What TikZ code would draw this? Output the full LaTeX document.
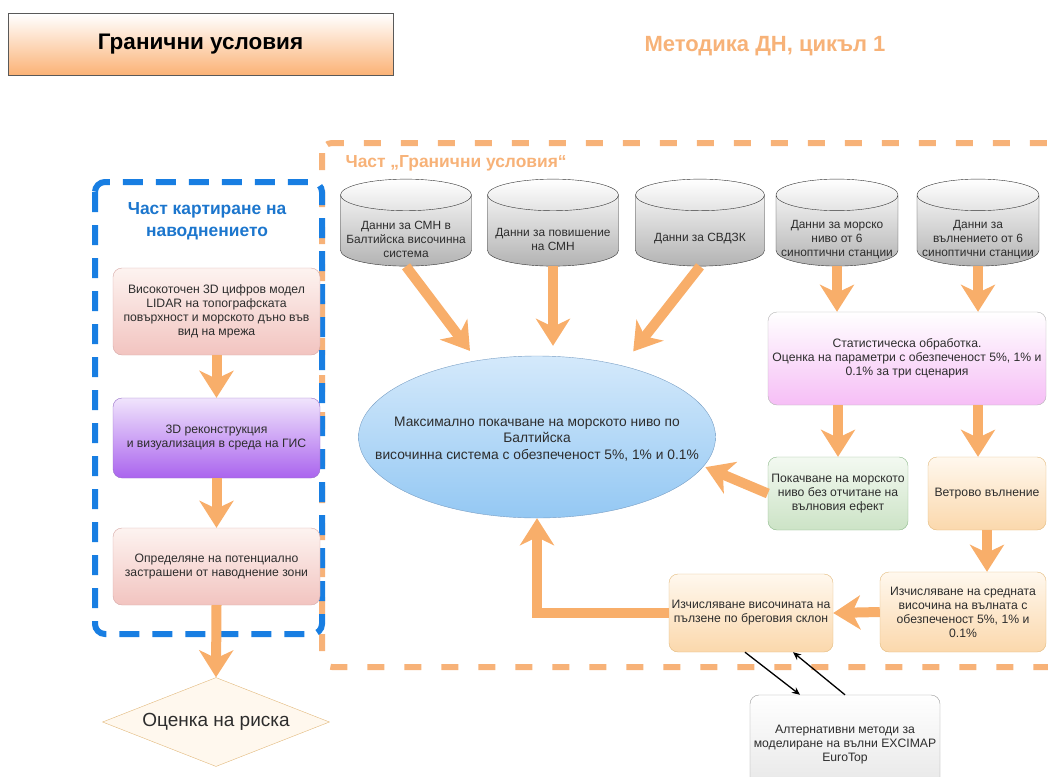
\documentclass[tikz,border=0pt]{standalone}
\usepackage{fontspec}
\setmainfont{Liberation Sans}
\usetikzlibrary{shapes.geometric, arrows.meta, positioning}

\definecolor{arrowor}{RGB}{248,174,106}
\definecolor{frameor}{RGB}{247,178,120}
\definecolor{frameblue}{RGB}{24,126,226}
\definecolor{labelblue}{RGB}{28,118,205}
\definecolor{txt}{RGB}{45,45,45}
\definecolor{pinktop}{RGB}{253,243,240}
\definecolor{pinkbot}{RGB}{242,196,192}
\definecolor{pinkline}{RGB}{214,168,166}
\definecolor{purtop}{RGB}{240,228,252}
\definecolor{purbot}{RGB}{170,100,238}
\definecolor{purline}{RGB}{150,110,200}
\definecolor{magbot}{RGB}{246,190,246}
\definecolor{bluetop}{RGB}{212,233,251}
\definecolor{bluebot}{RGB}{148,200,243}
\definecolor{blueline}{RGB}{120,158,196}
\definecolor{greentop}{RGB}{243,249,241}
\definecolor{greenbot}{RGB}{204,227,198}
\definecolor{greenline}{RGB}{140,184,138}
\definecolor{ortop}{RGB}{255,248,238}
\definecolor{orbot}{RGB}{251,216,172}
\definecolor{orline}{RGB}{226,184,122}
\definecolor{titlebot}{RGB}{251,178,118}

\begin{document}
\begin{tikzpicture}[x=1pt,y=-1pt,
    box/.style={draw, rounded corners=9pt, align=center, text=txt, inner sep=2pt,
        font=\fontsize{12.2}{14}\selectfont},
    pinkbox/.style={box, draw=pinkline, top color=pinktop, bottom color=pinkbot},
    orbox/.style={box, draw=orline, top color=ortop, bottom color=orbot},
    db/.style={cylinder, shape border rotate=90, aspect=0.27, draw=black!80,
        top color=white, bottom color=black!30, text width=115pt, inner sep=1pt,
        minimum height=87pt},
    dbtext/.style={align=center, text=txt, inner sep=0pt,
        font=\fontsize{11.9}{14}\selectfont},
    bigarrow/.style={draw=arrowor, line width=10pt,
        -{Stealth[length=27pt,width=34pt,inset=8pt]}},
    thinarrow/.style={draw=black, line width=1.3pt,
        -{Stealth[length=8pt,width=7pt]}}
]
\useasboundingbox (0,0) rectangle (1048,776);

% header
\node[draw=black!65, line width=1pt, top color=white, bottom color=titlebot,
    minimum width=385pt, minimum height=61pt,
    font=\fontsize{22.5}{26}\selectfont\bfseries] (title) at (200.5,44.5) {Гранични условия};
\node[text=frameor, font=\fontsize{22}{26}\selectfont\bfseries] (method) at (765,46)
    {Методика ДН, цикъл 1};

% the two dashed parts
\draw[frameor, line width=6pt, dash pattern=on 17pt off 20pt, rounded corners=10pt]
    (322,143) rectangle (1060,667);
\draw[frameblue, line width=6pt, dash pattern=on 20pt off 13pt, rounded corners=10pt]
    (95,182) rectangle (322,634);
\node[anchor=west, text=frameor, font=\fontsize{17.4}{20}\selectfont\bfseries]
    (partbc) at (342,163) {Част „Гранични условия“};
\node[align=center, text=labelblue, font=\fontsize{17.4}{22}\selectfont\bfseries]
    (partmap) at (207,221) {Част картиране на\\наводнението};

% flood mapping column
\node[pinkbox, minimum width=207pt, minimum height=87pt] (lidar) at (216.5,311.5)
    {Високоточен 3D цифров модел\\LIDAR на топографската\\повърхност и морското дъно във\\вид на мрежа};
\node[box, draw=purline, top color=purtop, bottom color=purbot,
    minimum width=207pt, minimum height=80pt] (gis) at (216.5,438)
    {3D реконструкция\\и визуализация в среда на ГИС};
\node[pinkbox, minimum width=207pt, minimum height=77pt] (zones) at (216.5,566.5)
    {Определяне на потенциално\\застрашени от наводнение зони};
\node[diamond, aspect=2.55, draw=orline, fill=ortop, minimum width=227pt, minimum height=89pt,
    inner sep=0pt, text=txt, font=\fontsize{19}{22}\selectfont] (risk) at (216,722)
    {Оценка на риска};

% data sources
\node[db, minimum width=131pt] (smn) at (406,232) {};
\node[db, minimum width=131pt] (rise) at (553,232) {};
\node[db, minimum width=129pt] (svdzk) at (700,232) {};
\node[db, minimum width=122pt] (level) at (837,232) {};
\node[db, minimum width=122pt] (waves) at (978,232) {};
\node[dbtext] (smntext) at (406,239) {Данни за СМН в\\Балтийска височинна\\система};
\node[dbtext] (risetext) at (553,239) {Данни за повишение\\на СМН};
\node[dbtext] (svdzktext) at (700,239) {Данни за СВДЗК};
\node[dbtext] (leveltext) at (837,240) {Данни за морско\\ниво от 6\\синоптични станции};
\node[dbtext] (wavestext) at (978,240) {Данни за\\вълнението от 6\\синоптични станции};

% processing
\node[box, draw=black!30, top color=white, bottom color=magbot,
    minimum width=278pt, minimum height=93pt] (stat) at (907,358.5)
    {Статистическа обработка.\\Оценка на параметри с обезпеченост 5\%, 1\% и\\0.1\% за три сценария};
\node[ellipse, draw=blueline, top color=bluetop, bottom color=bluebot,
    minimum width=357pt, minimum height=162pt, inner sep=0pt] (maxlevel) at (537,437) {};
\node[align=center, text=txt, font=\fontsize{13.8}{16.5}\selectfont] (maxleveltext) at (537,439)
    {Максимално покачване на морското ниво по\\Балтийска\\височинна система с обезпеченост 5\%, 1\% и 0.1\%};
\node[box, draw=greenline, top color=greentop, bottom color=greenbot,
    minimum width=140pt, minimum height=73pt] (nowave) at (838,493.5)
    {Покачване на морското\\ниво без отчитане на\\вълновия ефект};
\node[orbox, minimum width=118pt, minimum height=73pt] (wind) at (987,493.5)
    {Ветрово вълнение};
\node[orbox, minimum width=166pt, minimum height=80pt] (height) at (963,612)
    {Изчисляване на средната\\височина на вълната с\\обезпеченост 5\%, 1\% и\\0.1\%};
\node[orbox, minimum width=164pt, minimum height=78pt] (runup) at (751,613)
    {Изчисляване височината на\\пълзене по бреговия склон};
\node[box, draw=black!40, top color=white, bottom color=black!10,
    minimum width=190pt, minimum height=100pt] (alt) at (845,745)
    {Алтернативни методи за\\моделиране на вълни EXCIMAP\\EuroTop};

% orange flow arrows
\draw[bigarrow] (lidar.south) -- (gis.north);
\draw[bigarrow] (gis.south) -- (zones.north);
\draw[bigarrow] (zones.south) -- (risk.north);
\draw[bigarrow, shorten >=12pt] (smn.south) -- (maxlevel.128);
\draw[bigarrow, shorten >=10pt] (rise.south) -- (rise.south |- maxlevel.north);
\draw[bigarrow, shorten >=18pt] (svdzk.south) -- (maxlevel.40);
\draw[bigarrow] (level.south) -- (level.south |- stat.north);
\draw[bigarrow] (waves.south) -- (waves.south |- stat.north);
\draw[bigarrow] (nowave.north |- stat.south) -- (nowave.north);
\draw[bigarrow] (waves.south |- stat.south) -- (waves.south |- wind.north);
\draw[bigarrow, shorten >=2pt] (nowave.west) -- (maxlevel.-10);
\draw[bigarrow] (wind.south) -- (wind.south |- height.north);
\draw[bigarrow] (height.west) -- (runup.east);
\draw[bigarrow] (runup.west) -| (maxlevel.south);

% alternative methods
\draw[thinarrow] ([xshift=-6pt]runup.south) -- ([xshift=-45pt]alt.north);
\draw[thinarrow] (alt.north) -- ([xshift=42pt]runup.south);
\end{tikzpicture}
\end{document}
